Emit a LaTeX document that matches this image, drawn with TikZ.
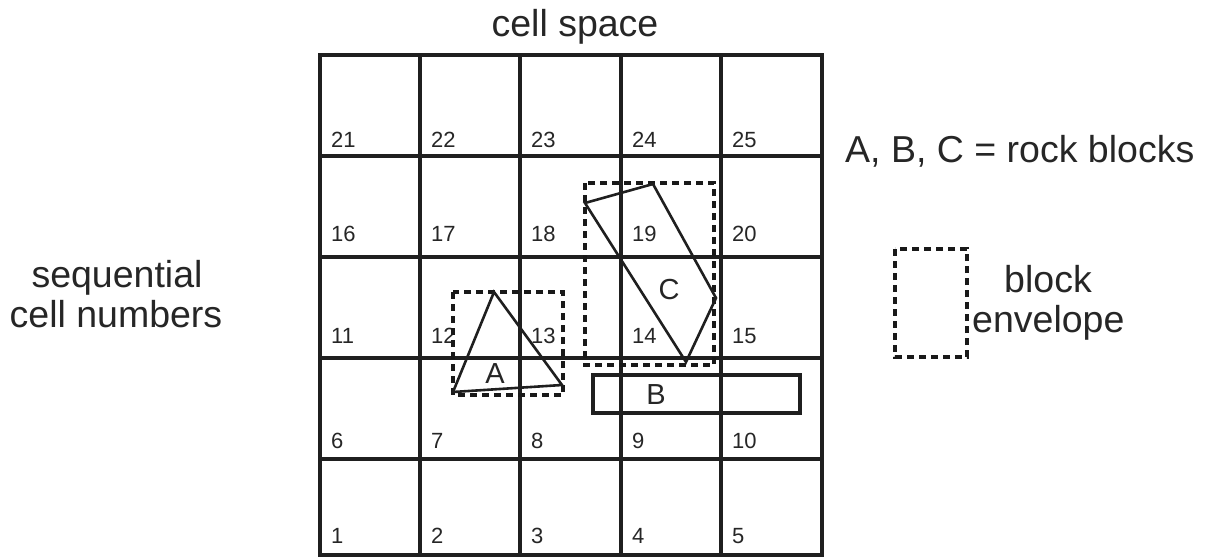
\documentclass[tikz,border=0pt]{standalone}
\usepackage{fontspec}
\setmainfont{Liberation Sans}
\begin{document}
\begin{tikzpicture}[x=1pt,y=-1pt,
 gridline/.style={line width=3.6pt, line cap=rect, color=black!88},
 blockline/.style={line width=2.6pt, line join=miter, color=black!88},
 envline/.style={line width=3.2pt, dash pattern=on 7pt off 5pt, color=black!90},
 num/.style={font=\fontsize{22}{22}\selectfont, anchor=base west, inner sep=0pt, text=black!85},
 big/.style={font=\fontsize{37.5}{40}\selectfont, inner sep=0pt, text=black!85},
 lab/.style={font=\fontsize{29}{29}\selectfont, inner sep=0pt, anchor=base, text=black!85}]
\useasboundingbox (0,0) rectangle (1207,557);
% grid
\foreach \x in {320,420,520,621,721,822} \draw[gridline] (\x,55) -- (\x,555);
\foreach \y in {55,156,257,358,459,555} \draw[gridline] (320,\y) -- (822,\y);
% cell numbers
\foreach \r/\b in {0/543,1/448,2/343,3/241,4/147}
  \foreach \c/\x in {0/320,1/420,2/520,3/621,4/721} {
    \pgfmathtruncatemacro\n{\r*5+\c+1}
    \node[num] (n\n) at (\x+11,\b) {\n};
  }
% block A
\draw[envline] (453,292) rectangle (563,395);
\draw[blockline] (494,292) -- (562,385) -- (453,392) -- cycle;
\node[lab] (A) at (495,383) {A};
% block C
\draw[envline] (585,183) rectangle (714,365);
\draw[blockline] (585,203) -- (653,184) -- (716,298) -- (686,362) -- cycle;
\node[lab] (C) at (669,299) {C};
% block B
\draw[line width=3.8pt, color=black!88] (593,375) rectangle (800,413);
\node[lab] (B) at (656,404) {B};
% texts
\node[big, anchor=base] (title) at (575,36) {cell space};
\node[big, anchor=base west] (legend) at (845,162) {A, B, C = rock blocks};
\node[big, anchor=base] (seq1) at (117,287) {sequential};
\node[big, anchor=base] (seq2) at (116,327) {cell numbers};
% legend envelope
\draw[envline] (895,249) rectangle (967,357);
\node[big, anchor=base] (blk) at (1048,292) {block};
\node[big, anchor=base west] (env) at (972,332) {envelope};
\end{tikzpicture}
\end{document}
